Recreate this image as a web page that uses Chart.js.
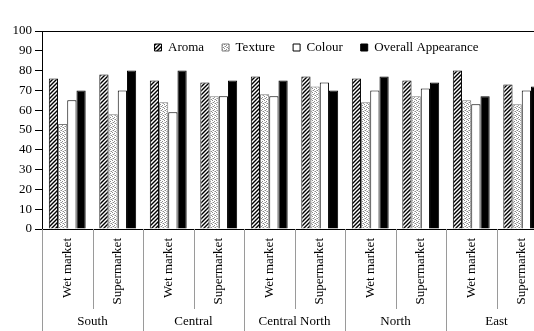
<!DOCTYPE html>
<html>
<head>
<meta charset="utf-8">
<script src="https://cdn.jsdelivr.net/npm/chart.js@4.4.1/dist/chart.umd.min.js"></script>
<style>
  html, body { margin: 0; padding: 0; background: #fff; overflow: hidden; }
  #wrap { width: 534px; height: 331px; overflow: hidden; }
</style>
</head>
<body>
<div id="wrap"><canvas id="chart" width="548" height="331"></canvas></div>
<script>
const regions = ['South', 'Central', 'Central North', 'North', 'East'];
const outlets = ['Wet market', 'Supermarket', 'Wet market', 'Supermarket', 'Wet market',
                 'Supermarket', 'Wet market', 'Supermarket', 'Wet market', 'Supermarket'];
const yTicks = [0, 10, 20, 30, 40, 50, 60, 70, 80, 90, 100];

const aroma   = [76, 78, 75, 74, 77, 77, 76, 75, 80, 73];
const texture = [53, 58, 64, 67, 68, 72, 64, 67, 65, 63];
const colour  = [65, 70, 59, 67, 67, 74, 70, 71, 63, 70];
const overall = [70, 80, 80, 75, 75, 70, 77, 74, 67, 72];

const serif = { family: 'Liberation Serif', size: 13 };

// diagonal hatch for Aroma
const makeHatch = () => {
    const c = document.createElement('canvas');
    c.width = 4; c.height = 4;
    const g = c.getContext('2d');
    g.fillStyle = '#fff';
    g.fillRect(0, 0, 4, 4);
    g.strokeStyle = '#000';
    g.lineWidth = 1.4;
    g.beginPath();
    g.moveTo(0, 4); g.lineTo(4, 0);
    g.moveTo(-1, 1); g.lineTo(1, -1);
    g.moveTo(3, 5); g.lineTo(5, 3);
    g.stroke();
    return g.createPattern(c, 'repeat');
};

// light speckle for Texture
const makeDots = () => {
    const c = document.createElement('canvas');
    c.width = 4; c.height = 4;
    const g = c.getContext('2d');
    g.fillStyle = '#fff';
    g.fillRect(0, 0, 4, 4);
    g.fillStyle = '#8a8a8a';
    [[0, 0], [2, 1], [1, 2], [3, 3]].forEach(p => g.fillRect(p[0], p[1], 1, 1));
    g.fillStyle = '#c8c8c8';
    [[2, 3], [0, 2]].forEach(p => g.fillRect(p[0], p[1], 1, 1));
    return g.createPattern(c, 'repeat');
};

// legend sits inside the plot, separators under the axis, top frame line
const framePlugin = {
    id: 'frame',
    afterLayout(chart) {
        const lg = chart.legend;
        if (lg) {
            lg.top = 23;
            lg.bottom = 63;
            lg.height = 40;
            lg.left += 43;
            lg.right += 43;
        }
    },
    afterDraw(chart) {
        const ctx = chart.ctx;
        const x = chart.scales.x;
        const area = chart.chartArea;
        ctx.save();
        ctx.strokeStyle = '#000';
        ctx.lineWidth = 1;
        ctx.beginPath();
        ctx.moveTo(area.left, area.top + 0.5);
        ctx.lineTo(area.right, area.top + 0.5);
        ctx.moveTo(area.right - 0.5, area.top);
        ctx.lineTo(area.right - 0.5, area.bottom);
        ctx.stroke();
        ctx.strokeStyle = '#9a9a9a';
        ctx.beginPath();
        for (let i = 0; i <= outlets.length; i++) {
            const px = Math.round(x.getPixelForValue(i - 0.5)) + 0.5;
            const end = i % 2 === 0 ? chart.height : x.bottom;
            ctx.moveTo(px, area.bottom);
            ctx.lineTo(px, end);
        }
        ctx.stroke();
        ctx.restore();
    }
};

new Chart(document.getElementById('chart'), {
    type: 'bar',
    data: {
        labels: outlets,
        datasets: [
            { label: 'Aroma', data: aroma, backgroundColor: makeHatch(), borderColor: '#000', borderWidth: 1 },
            { label: 'Texture', data: texture, backgroundColor: makeDots(), borderColor: '#7a7a7a', borderWidth: 1 },
            { label: 'Colour', data: colour, backgroundColor: '#fff', borderColor: '#000', borderWidth: 1 },
            { label: 'Overall Appearance', data: overall, backgroundColor: '#000', borderColor: '#000', borderWidth: 1 }
        ]
    },
    options: {
        responsive: false,
        animation: false,
        datasets: { bar: { categoryPercentage: 0.73, barPercentage: 1.0 } },
        layout: { padding: { top: 30, left: 0, right: 1, bottom: 0 } },
        plugins: {
            tooltip: { enabled: false },
            legend: {
                position: 'top',
                align: 'center',
                maxHeight: 1,
                labels: { font: serif, color: '#000', boxWidth: 7, boxHeight: 7, padding: 18 }
            }
        },
        scales: {
            y: {
                min: 0,
                max: 100,
                afterBuildTicks: s => { s.ticks = yTicks.map(v => ({ value: v })); },
                ticks: { font: serif, color: '#000', padding: 3 },
                grid: { drawOnChartArea: false, drawTicks: true, tickLength: 7, color: '#000' },
                border: { color: '#000', width: 1 },
                afterFit: s => { s.width = 42; }
            },
            x: {
                offset: true,
                ticks: { font: serif, color: '#000', minRotation: 90, maxRotation: 90, autoSkip: false, padding: 9 },
                grid: { drawOnChartArea: false, drawTicks: false, offset: true },
                border: { color: '#000', width: 1 },
                afterFit: s => { s.height = 80; }
            },
            region: {
                type: 'category',
                axis: 'x',
                position: 'bottom',
                labels: regions,
                offset: true,
                ticks: { font: serif, color: '#000', maxRotation: 0, autoSkip: false, padding: 5 },
                grid: { display: false, drawTicks: false },
                border: { display: false },
                afterFit: s => { s.height = 22; }
            }
        }
    },
    plugins: [framePlugin]
});
</script>
</body>
</html>
